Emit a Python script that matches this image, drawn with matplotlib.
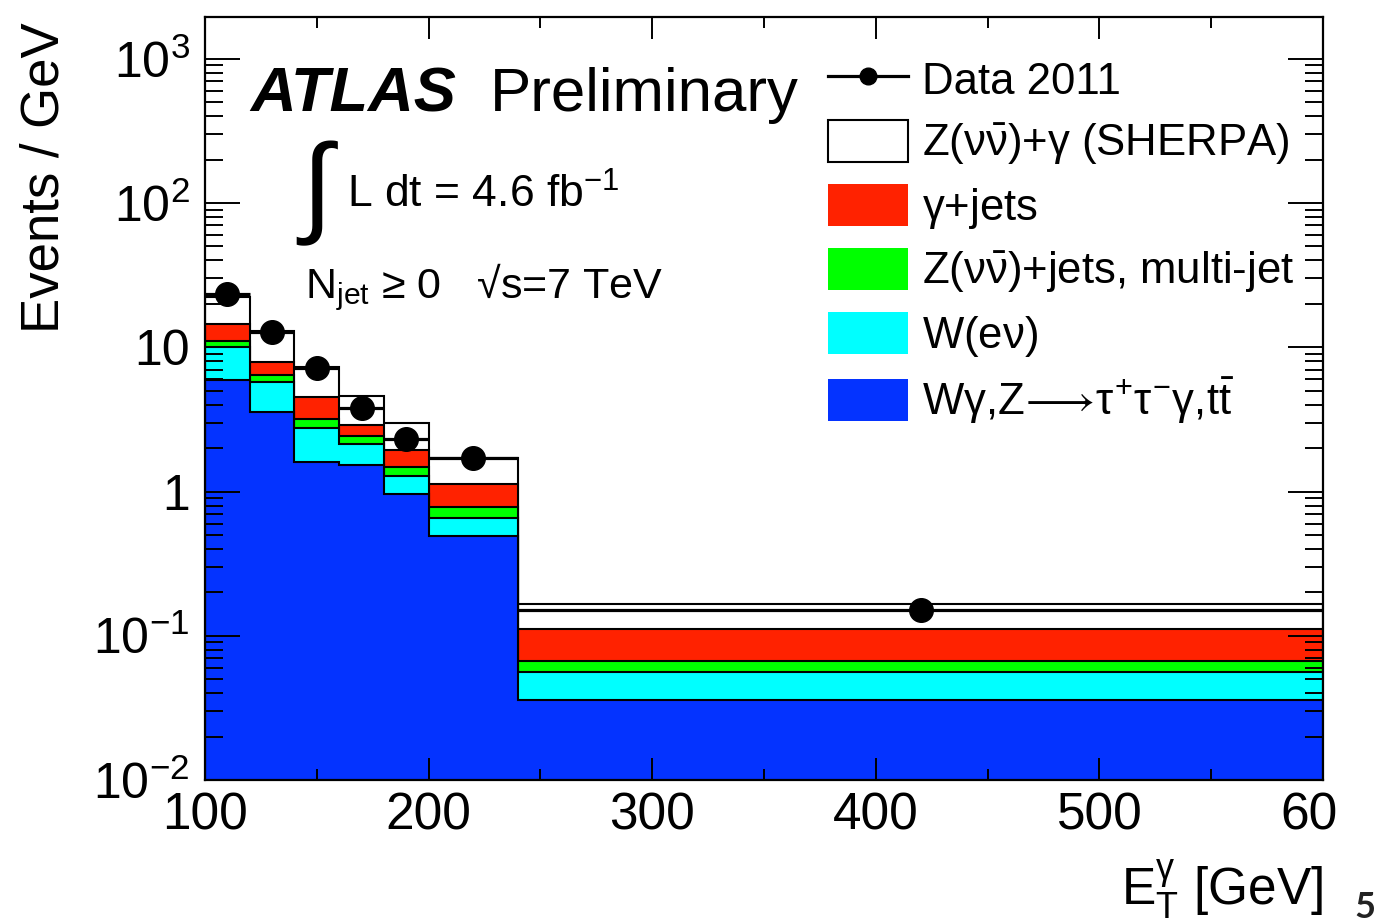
import numpy as np
import matplotlib
matplotlib.use("Agg")
import matplotlib.pyplot as plt
from matplotlib.patches import Patch
from matplotlib.lines import Line2D
from matplotlib.ticker import FixedLocator, FixedFormatter, MultipleLocator, LogLocator, NullFormatter
from matplotlib.transforms import Bbox, TransformedBbox

plt.rcParams['font.family'] = ['Liberation Sans', 'DejaVu Sans']
plt.rcParams['mathtext.fontset'] = 'custom'
plt.rcParams['mathtext.rm'] = 'Liberation Sans'
plt.rcParams['mathtext.it'] = 'Liberation Sans'
plt.rcParams['mathtext.bf'] = 'Liberation Sans:bold'
plt.rcParams['mathtext.sf'] = 'Liberation Sans'

# ---- data (Events / GeV) ----
bin_edges = [100, 120, 140, 160, 180, 200, 240, 600]
data_2011 = [23.3, 12.7, 7.2, 3.8, 2.3, 1.7, 0.150]
bkg_wgamma_ztautau_ttbar = [5.94, 3.57, 1.59, 1.53, 0.96, 0.488, 0.036]
bkg_w_enu = [4.06, 2.16, 1.16, 0.60, 0.32, 0.166, 0.0204]
bkg_znunu_jets_multijet = [1.10, 0.71, 0.43, 0.28, 0.20, 0.121, 0.0107]
bkg_gamma_jets = [3.40, 1.48, 1.37, 0.49, 0.46, 0.345, 0.0449]
sig_znunu_gamma = [8.0, 4.98, 2.75, 1.70, 1.04, 0.60, 0.054]

labels = ['Data 2011', r'Z($\nu\bar{\nu}$)+$\gamma$ (SHERPA)', r'$\gamma$+jets',
          r'Z($\nu\bar{\nu}$)+jets, multi-jet', r'W(e$\nu$)',
          r'W$\gamma$,Z$\!\longrightarrow\!\tau^{+}\tau^{\mathregular{-}}\gamma$,t$\bar{\mathrm{t}}$']
colors = ['white', '#ff2200', '#00ff00', '#00ffff', '#0433ff']

xticks = [100, 200, 300, 400, 500, 600]
xtick_labels = ['100', '200', '300', '400', '500', '600']
yticks = [0.01, 0.1, 1, 10, 100, 1000]
ytick_labels = [r'$10^{\mathregular{-2}}$', r'$10^{\mathregular{-1}}$', '1', '10',
                r'$10^{2}$', r'$10^{3}$']

W, H = 1376, 924
fig = plt.figure(figsize=(W / 100, H / 100), dpi=100)
ax = fig.add_axes([205 / W, 1 - 780 / H, (1323 - 205) / W, (780 - 17) / H])
ax.set_yscale('log')

edges = np.array(bin_edges, dtype=float)
components = [bkg_wgamma_ztautau_ttbar, bkg_w_enu, bkg_znunu_jets_multijet,
              bkg_gamma_jets, sig_znunu_gamma]
cums = np.cumsum(np.array(components, dtype=float), axis=0)
stack_colors = colors[::-1]  # blue, cyan, green, red, white
for i in range(len(components) - 1, -1, -1):
    ax.stairs(cums[i], edges, baseline=1e-5, fill=True,
              facecolor=stack_colors[i], edgecolor='black', linewidth=1.5, zorder=1)

centers = 0.5 * (edges[:-1] + edges[1:])
half = 0.5 * (edges[1:] - edges[:-1])
ax.errorbar(centers, data_2011, xerr=half, fmt='o', color='black', markersize=17,
            elinewidth=2.3, capsize=0, zorder=3)

ax.set_xlim(100, 600)
ax.set_ylim(0.01, 1950)

ax.xaxis.set_major_locator(FixedLocator(xticks))
ax.xaxis.set_major_formatter(FixedFormatter(xtick_labels))
ax.xaxis.set_minor_locator(MultipleLocator(50))
ax.yaxis.set_major_locator(FixedLocator(yticks))
ax.yaxis.set_major_formatter(FixedFormatter(ytick_labels))
ax.yaxis.set_minor_locator(LogLocator(base=10, subs=np.arange(2, 10)))
ax.yaxis.set_minor_formatter(NullFormatter())

ax.tick_params(axis='both', which='both', direction='in', top=True, right=True, width=1.4)
ax.tick_params(axis='x', which='major', length=16, labelsize=37, pad=8)
ax.tick_params(axis='x', which='minor', length=8)
ax.tick_params(axis='y', which='major', length=25, labelsize=36, pad=11)
ax.tick_params(axis='y', which='minor', length=13)
for s in ax.spines.values():
    s.set_linewidth(1.6)

# clip the last x tick label as in the (cropped) reference
fig.canvas.draw()
clipbb = TransformedBbox(Bbox([[0, 0], [1337 / W, 1]]), fig.transFigure)
for t in ax.xaxis.get_major_ticks():
    t.label1.set_clip_on(True)
    t.label1.set_clip_box(clipbb)

# texts
fig.text(250 / W, 1 - 111 / H, 'ATLAS', fontsize=45.5, fontweight='bold', fontstyle='italic',
         ha='left', va='baseline')
fig.text(490 / W, 1 - 111 / H, 'Preliminary', fontsize=44.5, ha='left', va='baseline')
fig.text(301 / W, 1 - 222 / H, '∫', fontsize=80, ha='left', va='baseline')
fig.text(347 / W, 1 - 208 / H, r'L dt = 4.6 fb$^{\mathregular{-1}}$', fontsize=32,
         ha='left', va='baseline')
fig.text(305 / W, 1 - 298 / H, r'N$_{\mathregular{jet}}$ ≥ 0   √s=7 TeV',
         fontsize=31, ha='left', va='baseline')

fig.text(45 / W, 1 - 22 / H, 'Events / GeV', fontsize=38, rotation=90, ha='center', va='top')
fig.text(1323 / W, 1 - 905 / H, r'E$_{\mathregular{T}}^{\gamma}$ [GeV]', fontsize=37,
         ha='right', va='baseline')
fig.text(1365 / W, 1 - 918 / H, '5', fontsize=26, fontweight='bold', family='Lato',
         color='#222222', ha='center', va='baseline')

handles = [Line2D([], [], color='black', marker='o', markersize=12, lw=2.3),
           Patch(facecolor='white', edgecolor='black', lw=1.5),
           Patch(facecolor=colors[1], edgecolor='none'),
           Patch(facecolor=colors[2], edgecolor='none'),
           Patch(facecolor=colors[3], edgecolor='none'),
           Patch(facecolor=colors[4], edgecolor='none')]
fig.legend(handles, labels, loc='upper left', bbox_to_anchor=(828 / W, 1 - 58 / H),
           frameon=False, fontsize=31.5, handlelength=1.83, handleheight=1.1,
           handletextpad=0.32, labelspacing=0.39, borderpad=0, borderaxespad=0,
           numpoints=1)

fig.savefig('out.png', dpi=100)
